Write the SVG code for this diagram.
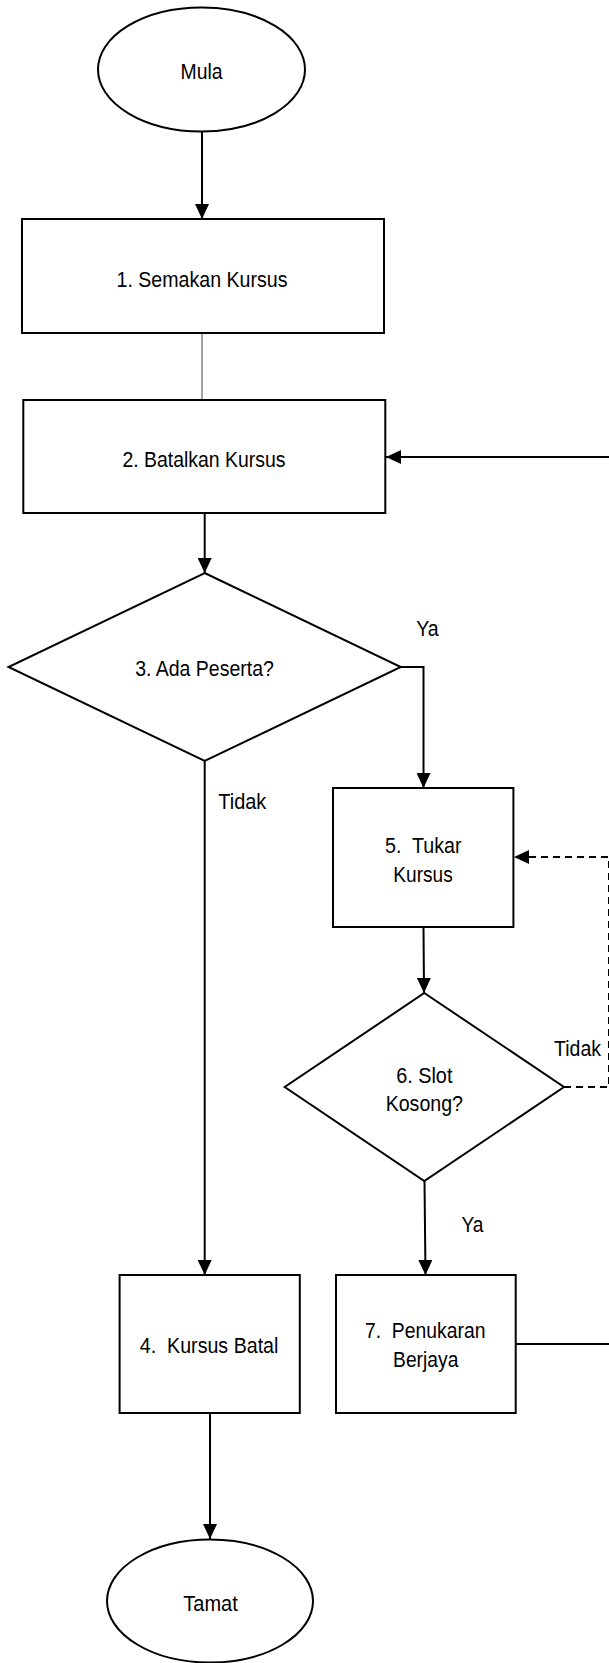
<svg xmlns="http://www.w3.org/2000/svg" width="609" height="1663" viewBox="0 0 609 1663">
<style>
.shape{fill:#fff;stroke:#000;stroke-width:2}
.t{font-family:"Liberation Sans",Arial,sans-serif;font-size:22.5px;fill:#000;text-anchor:middle}
.c{fill:none;stroke:#000;stroke-width:2}
.thin{fill:none;stroke:#444;stroke-width:1}
.dash{fill:none;stroke:#000;stroke-width:2;stroke-dasharray:7,5}
</style>
<defs>
<marker id="ah" markerUnits="userSpaceOnUse" markerWidth="15" markerHeight="14" refX="15" refY="7" orient="auto">
<path d="M0,0 L15,7 L0,14 z" fill="#000"/>
</marker>
</defs>
<rect width="609" height="1663" fill="#fff"/>
<g id="connectors">
<line class="c" x1="202" y1="132" x2="202" y2="219" marker-end="url(#ah)"/>
<line class="thin" x1="202" y1="334" x2="202" y2="400"/>
<polyline class="c" points="516,1344 616,1344 616,457 386,457" marker-end="url(#ah)"/>
<line class="c" x1="204.7" y1="513" x2="204.7" y2="573" marker-end="url(#ah)"/>
<polyline class="c" points="401,667 423.5,667 423.5,788" marker-end="url(#ah)"/>
<line class="c" x1="204.7" y1="761" x2="204.7" y2="1275" marker-end="url(#ah)"/>
<line class="c" x1="423.5" y1="927" x2="424" y2="993" marker-end="url(#ah)"/>
<polyline class="dash" points="564,1087 609,1087 609,857 514,857" marker-end="url(#ah)"/>
<line class="c" x1="424.5" y1="1181" x2="425.5" y2="1275" marker-end="url(#ah)"/>
<line class="c" x1="210" y1="1413" x2="210" y2="1539" marker-end="url(#ah)"/>
</g>
<g id="labels">
<text class="t" x="427.5" y="635.7" textLength="22.5" lengthAdjust="spacingAndGlyphs">Ya</text>
<text class="t" x="242.3" y="809.3" textLength="48" lengthAdjust="spacingAndGlyphs">Tidak</text>
<text class="t" x="577.5" y="1055.5" textLength="47" lengthAdjust="spacingAndGlyphs">Tidak</text>
<text class="t" x="472.5" y="1231.7" textLength="22" lengthAdjust="spacingAndGlyphs">Ya</text>
</g>
<g id="mula">
<ellipse class="shape" cx="201.5" cy="69.5" rx="103.5" ry="62"/>
<text class="t" x="201.6" y="79.3" textLength="42" lengthAdjust="spacingAndGlyphs">Mula</text>
</g>
<g id="n1">
<rect class="shape" x="22" y="219" width="362" height="114"/>
<text class="t" x="202" y="286.7" textLength="171" lengthAdjust="spacingAndGlyphs">1. Semakan Kursus</text>
</g>
<g id="n2">
<rect class="shape" x="23.3" y="400" width="362" height="113"/>
<text class="t" x="203.9" y="466.7" textLength="163" lengthAdjust="spacingAndGlyphs">2. Batalkan Kursus</text>
</g>
<g id="n3">
<polygon class="shape" points="204.7,573 400.8,667 204.7,761 8.5,667"/>
<text class="t" x="204.5" y="676" textLength="138.7" lengthAdjust="spacingAndGlyphs">3. Ada Peserta?</text>
</g>
<g id="n5">
<rect class="shape" x="333" y="788" width="180.4" height="139"/>
<text class="t" x="423.3" y="853.3" textLength="76.7" lengthAdjust="spacingAndGlyphs" xml:space="preserve">5.  Tukar</text>
<text class="t" x="423" y="881.7" textLength="59.4" lengthAdjust="spacingAndGlyphs">Kursus</text>
</g>
<g id="n6">
<polygon class="shape" points="424.3,993 564,1087 424.3,1181 284.7,1087"/>
<text class="t" x="424.3" y="1083.3" textLength="56.3" lengthAdjust="spacingAndGlyphs">6. Slot</text>
<text class="t" x="424.3" y="1110.5" textLength="77.3" lengthAdjust="spacingAndGlyphs">Kosong?</text>
</g>
<g id="n4">
<rect class="shape" x="119.6" y="1275" width="180.2" height="138"/>
<text class="t" x="209.1" y="1352.7" textLength="138.6" lengthAdjust="spacingAndGlyphs" xml:space="preserve">4.  Kursus Batal</text>
</g>
<g id="n7">
<rect class="shape" x="336" y="1275" width="179.7" height="138"/>
<text class="t" x="425.2" y="1338.3" textLength="120.4" lengthAdjust="spacingAndGlyphs" xml:space="preserve">7.  Penukaran</text>
<text class="t" x="425.7" y="1366.7" textLength="65.3" lengthAdjust="spacingAndGlyphs">Berjaya</text>
</g>
<g id="tamat">
<ellipse class="shape" cx="210" cy="1601" rx="103" ry="61.5"/>
<text class="t" x="210.5" y="1610.7" textLength="54.4" lengthAdjust="spacingAndGlyphs">Tamat</text>
</g>
</svg>
